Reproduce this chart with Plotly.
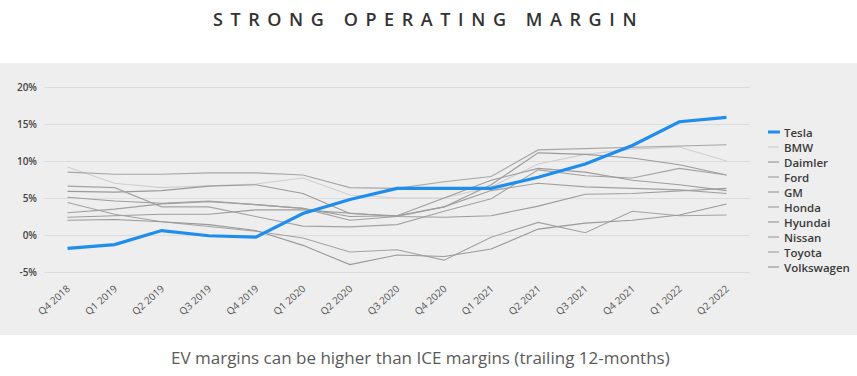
import plotly.graph_objects as go

quarters = ["Q4 2018", "Q1 2019", "Q2 2019", "Q3 2019", "Q4 2019", "Q1 2020", "Q2 2020",
            "Q3 2020", "Q4 2020", "Q1 2021", "Q2 2021", "Q3 2021", "Q4 2021", "Q1 2022", "Q2 2022"]

tesla = [-1.8, -1.3, 0.6, -0.1, -0.3, 2.9, 4.8, 6.3, 6.3, 6.3, 7.8, 9.6, 12.1, 15.3, 15.9]
bmw = [9.2, 7.0, 6.4, 6.7, 6.9, 7.7, 5.4, 5.0, 5.0, 6.5, 9.6, 10.9, 11.6, 11.9, 10.0]
daimler = [5.9, 5.8, 6.0, 6.6, 6.8, 5.6, 2.9, 2.6, 3.8, 6.8, 11.1, 10.9, 10.4, 9.5, 8.1]
ford = [6.6, 6.4, 3.8, 3.8, 2.5, 1.2, 1.1, 1.4, 3.2, 4.9, 8.8, 8.0, 7.7, 9.0, 8.1]
gm = [5.1, 4.6, 4.3, 4.6, 4.1, 3.6, 2.5, 2.6, 5.0, 7.4, 9.0, 8.5, 7.4, 6.8, 6.0]
honda = [3.0, 3.5, 4.2, 4.5, 4.1, 3.6, 2.0, 2.5, 3.8, 6.0, 7.0, 6.5, 6.3, 6.1, 5.6]
hyundai = [2.4, 2.6, 2.8, 2.8, 3.4, 3.4, 3.0, 2.5, 2.4, 2.6, 3.9, 5.5, 5.6, 5.9, 6.3]
nissan = [4.4, 2.8, 1.8, 1.2, 0.5, -0.4, -2.3, -2.0, -3.4, -0.3, 1.7, 0.3, 3.2, 2.6, 2.7]
toyota = [8.5, 8.2, 8.2, 8.4, 8.4, 8.1, 6.4, 6.3, 7.2, 7.9, 11.5, 11.7, 11.9, 12.0, 12.2]
volkswagen = [2.0, 2.1, 1.8, 1.4, 0.6, -1.4, -4.0, -2.7, -2.9, -1.9, 0.8, 1.6, 2.0, 2.7, 4.2]

series_names = ["Tesla", "BMW", "Daimler", "Ford", "GM", "Honda", "Hyundai", "Nissan", "Toyota", "Volkswagen"]
series_values = [tesla, bmw, daimler, ford, gm, honda, hyundai, nissan, toyota, volkswagen]
series_colors = ["#1f8ded", "#cfcfcf", "#9a9a9a", "#a3a3a3", "#9d9d9d", "#a0a0a0",
                 "#9c9c9c", "#a2a2a2", "#a6a6a6", "#999999"]
series_widths = [3.2, 1.1, 1.1, 1.1, 1.1, 1.1, 1.1, 1.1, 1.1, 1.1]

y_ticks = [-5, 0, 5, 10, 15, 20]
y_ticktext = ["-5%", "0%", "5%", "10%", "15%", "20%"]

W, H = 857, 376
L, R, T, B = 44, 750, 80, 280  # plot area pixels

def px(x):
    return (x - L) / (R - L)

def py(y):
    return (B - y) / (B - T)

fig = go.Figure()
order = list(range(1, len(series_names))) + [0]
for i in order:
    fig.add_trace(go.Scatter(
        x=quarters, y=series_values[i], name=series_names[i], mode="lines",
        line=dict(color=series_colors[i], width=series_widths[i]),
        showlegend=False, hoverinfo="x+y+name"))

shapes = [dict(type="rect", xref="paper", yref="paper", x0=px(0), x1=px(W), y0=py(335), y1=py(63),
               fillcolor="#eeeeee", line=dict(width=0), layer="below")]
annotations = []
for k, name in enumerate(series_names):
    yy = 132 + 15 * k
    shapes.append(dict(type="line", xref="paper", yref="paper", x0=px(768), x1=px(780 if k == 0 else 779),
                       y0=py(yy), y1=py(yy),
                       line=dict(color=series_colors[k], width=3 if k == 0 else 1.2)))
    annotations.append(dict(xref="paper", yref="paper", x=px(782), y=py(yy), text=name, showarrow=False,
                            xanchor="left", yanchor="middle",
                            font=dict(family="Open Sans", size=11.5, color="#3a3a3a", weight=600)))

annotations.append(dict(xref="paper", yref="paper", x=px(420), y=py(357),
                        text="EV margins can be higher than ICE margins (trailing 12-months)",
                        showarrow=False, xanchor="center", yanchor="middle",
                        font=dict(family="Open Sans", size=17, color="#5a5a5a")))

scale = 7.4
y_top = 20 + (87 - T) / scale
y_bot = y_top - (B - T) / scale

fig.update_layout(
    width=W, height=H,
    margin=dict(l=L, r=W - R, t=T, b=H - B, pad=0),
    paper_bgcolor="white", plot_bgcolor="rgba(0,0,0,0)",
    title=dict(text="STRONG OPERATING MARGIN", x=0.5, xref="container", xanchor="center",
               y=1 - 20 / H, yref="container", yanchor="middle",
               font=dict(family="Open Sans", size=18, color="#333333", weight=600)),
    shapes=shapes, annotations=annotations,
    xaxis=dict(type="category", range=[-0.5, 14.5], showgrid=False, zeroline=False, showline=False,
               tickangle=-42, ticks="", tickfont=dict(family="Open Sans", size=10, color="#555555")),
    yaxis=dict(range=[y_bot, y_top], tickvals=y_ticks, ticktext=y_ticktext, showgrid=True,
               gridcolor="#dcdcdc", gridwidth=1, zeroline=False, showline=False, ticks="",
               ticklabelstandoff=6,
               tickfont=dict(family="Open Sans", size=10, color="#444444", weight=600)),
)

fig.write_html("out.html", config={"displayModeBar": False},
               post_script=("document.body.style.margin='0';"
                            "document.querySelectorAll('.gtitle').forEach(function(e){e.style.letterSpacing='7.6px';});"))
